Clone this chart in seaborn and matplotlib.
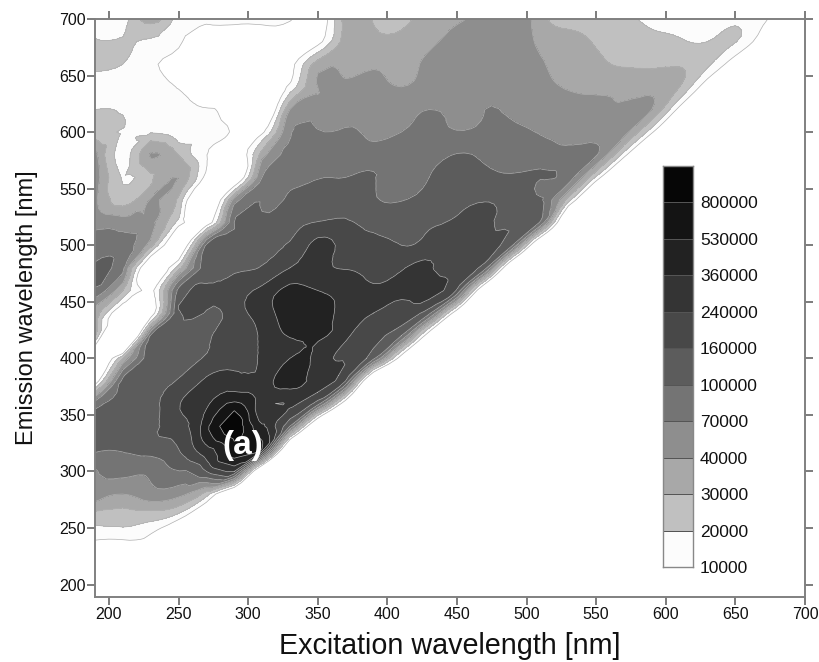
import numpy as np
import pandas as pd
import matplotlib
matplotlib.use("Agg")
import matplotlib.pyplot as plt
import matplotlib.tri as mtri
from matplotlib.colors import ListedColormap
import seaborn as sns

sns.set_theme(style="ticks")
plt.rcParams['font.family'] = ['Liberation Sans', 'DejaVu Sans']

W, H = 820, 662

# grid of the map, values are in "band units": 0 = 10000, 1 = 20000 ... 10 = 800000
excitation = list(range(190, 711, 20))
emission = list(range(700, 199, -20))

band_rows = [
    [.5, .5, 2.5, .5, .5, .5, .5, .2, -1, 2.5, 1.9, 1.5, 2.6, 2.9, 3.5, 3.9, 2.4, 1.5, 1.5, 1.2, .8, .6, .6, .7, .2, -1, -1],
    [1.1, 1.1, .8, .2, -1, -1, -1, -1, -.5, 2.5, 2.5, 2.4, 2.8, 3.3, 3.7, 3.7, 2.8, 2.4, 1.9, 1.5, 1.3, 1.1, 1.0, 1.05, -1, -3, -3],
    [1.2, 1.0, .2, -.5, -1, -1, -1, -.5, 2.5, 2.8, 2.9, 2.8, 3.2, 3.6, 3.8, 3.6, 3.1, 2.6, 2.2, 1.9, 1.9, 1.9, 1.2, -1, -3, -3, -3],
    [.6, .5, .5, -.1, -1, -1, -1, .3, 3.0, 3.2, 3.3, 3.0, 3.4, 3.8, 3.9, 3.7, 3.3, 2.9, 2.7, 2.7, 2.6, 2.0, -1, -3, -3, -3, -3],
    [1.0, .9, .4, .5, .1, -1, -2.5, 3.0, 3.4, 3.6, 3.7, 3.7, 4.0, 3.9, 4.0, 3.9, 3.6, 3.5, 3.3, 3.2, 3.0, -.5, -3, -3, -3, -3, -3],
    [1.5, .9, .9, .5, .5, -.3, -.3, 3.9, 4.1, 4.1, 3.8, 4.0, 4.3, 4.05, 4.2, 4.2, 3.95, 3.7, 3.5, 3.3, .2, -3, -3, -3, -3, -3, -3],
    [3.3, .4, 3.1, 2.0, .05, -1.5, 2.5, 4.3, 4.6, 4.6, 4.5, 4.9, 4.7, 5.05, 4.85, 4.7, 4.5, 4.4, 4.1, .5, -3, -3, -3, -3, -3, -3, -3],
    [3.7, .9, 1.8, 3.0, -.5, -2, 4.0, 4.7, 4.95, 5.0, 5.05, 4.5, 5.0, 5.3, 5.15, 5.1, 5.05, 4.5, .8, -3, -3, -3, -3, -3, -3, -3, -3],
    [3.3, 1.5, 3.1, 1.8, -3, 3.5, 4.9, 5.3, 5.5, 5.5, 5.1, 4.95, 5.4, 5.7, 5.9, 5.6, 5.2, 1.5, -3, -3, -3, -3, -3, -3, -3, -3, -3],
    [3.7, 3.5, 3.2, .6, -1, 5.0, 5.4, 5.7, 6.05, 6.1, 5.7, 5.6, 5.9, 6.3, 6.5, 5.8, 4.9, -3, -3, -3, -3, -3, -3, -3, -3, -3, -3],
    [4.5, 4.5, 2.5, -2, 5.2, 5.5, 5.8, 6.1, 7.3, 6.6, 6.3, 6.0, 6.4, 6.9, 6.6, 5.0, -2.5, -3, -3, -3, -3, -3, -3, -3, -3, -3, -3],
    [5.3, 4.3, -2, 1.5, 5.6, 5.8, 6.05, 7.0, 7.2, 6.95, 6.7, 6.85, 7.2, 6.5, 5.5, -2.5, -3, -3, -3, -3, -3, -3, -3, -3, -3, -3, -3],
    [4.8, 2.0, -.5, 5.3, 6.3, 6.5, 7.3, 8.3, 8.0, 7.6, 7.2, 7.3, 7.6, 5.9, -2, -3, -3, -3, -3, -3, -3, -3, -3, -3, -3, -3, -3],
    [2.5, -2, -1, 5.9, 5.9, 6.5, 7.5, 8.5, 8.5, 7.7, 7.0, 6.6, 5.3, -1, -3, -3, -3, -3, -3, -3, -3, -3, -3, -3, -3, -3, -3],
    [2.2, -6, 5.2, 5.6, 5.7, 6.3, 7.2, 8.05, 8.1, 7.3, 6.2, 5.0, -1, -3, -3, -3, -3, -3, -3, -3, -3, -3, -3, -3, -3, -3, -3],
    [-3, 2, 5.6, 5.6, 6.1, 6.6, 7.1, 8.0, 7.7, 6.9, 5.3, -.8, -3, -3, -3, -3, -3, -3, -3, -3, -3, -3, -3, -3, -3, -3, -3],
    [-1, 5.3, 5.8, 6.1, 7.2, 7.4, 7.4, 8.5, 7.9, 6.0, -3, -3, -3, -3, -3, -3, -3, -3, -3, -3, -3, -3, -3, -3, -3, -3, -3],
    [4.5, 5.5, 5.6, 6.95, 7.8, 9.2, 7.4, 7.2, 5.5, -1, -3, -3, -3, -3, -3, -3, -3, -3, -3, -3, -3, -3, -3, -3, -3, -3, -3],
    [5.3, 5.5, 5.8, 6.5, 8.7, 10.8, 8.2, 5.0, -2.5, -3, -3, -3, -3, -3, -3, -3, -3, -3, -3, -3, -3, -3, -3, -3, -3, -3, -3],
    [5.2, 5.1, 5.5, 6.0, 7.7, 9.9, 9.0, -3, -3, -3, -3, -3, -3, -3, -3, -3, -3, -3, -3, -3, -3, -3, -3, -3, -3, -3, -3],
    [3.9, 4.3, 4.2, 4.95, 6.0, 7.0, -3, -3, -3, -3, -3, -3, -3, -3, -3, -3, -3, -3, -3, -3, -3, -3, -3, -3, -3, -3, -3],
    [3.6, 3.0, 3.6, 3.3, 1.5, -2.5, -3, -3, -3, -3, -3, -3, -3, -3, -3, -3, -3, -3, -3, -3, -3, -3, -3, -3, -3, -3, -3],
    [1.5, 1.5, 1.4, .5, -2, -3, -3, -3, -3, -3, -3, -3, -3, -3, -3, -3, -3, -3, -3, -3, -3, -3, -3, -3, -3, -3, -3],
    [.1, .05, -.5, -3, -3, -3, -3, -3, -3, -3, -3, -3, -3, -3, -3, -3, -3, -3, -3, -3, -3, -3, -3, -3, -3, -3, -3],
    [-3] * 27,
    [-3] * 27,
]

band_labels = ["10000", "20000", "30000", "40000", "70000", "100000",
               "160000", "240000", "360000", "530000", "800000"]
band_colors = ["#fcfcfc", "#c0c0c0", "#a8a8a8", "#8e8e8e", "#747474", "#5c5c5c",
               "#484848", "#343434", "#222222", "#141414", "#060606"]
x_ticks = [200, 250, 300, 350, 400, 450, 500, 550, 600, 650, 700]
y_ticks = [200, 250, 300, 350, 400, 450, 500, 550, 600, 650, 700]


def box(left, top, right, bottom):
    return [left / W, 1 - bottom / H, (right - left) / W, (bottom - top) / H]


fig = plt.figure(figsize=(W / 100, H / 100), dpi=100)
ax = fig.add_axes(box(95, 19, 805, 597))

df = pd.DataFrame(band_rows, index=emission, columns=excitation)
levels = list(range(len(band_colors) + 1))

# cells are split along the rising diagonal, same direction as the steep edge of the map
n_rows, n_cols = df.shape
triangles = []
for r in range(n_rows - 1):
    for c in range(n_cols - 1):
        bl, br = (r + 1) * n_cols + c, (r + 1) * n_cols + c + 1
        tl, tr = r * n_cols + c, r * n_cols + c + 1
        triangles += [[bl, br, tr], [bl, tr, tl]]

xx, yy = np.meshgrid(df.columns.values.astype(float), df.index.values.astype(float))
z = df.values.ravel()
tri = mtri.Triangulation(xx.ravel(), yy.ravel(), triangles)

# matplotlib's own refiner rounds the contours off a bit,
# the cubic one overshoots at the steep edge so keep it close to the linear one
refiner = mtri.UniformTriRefiner(tri)
tri2, z_cubic = refiner.refine_field(z, triinterpolator=mtri.CubicTriInterpolator(tri, z, kind="min_E"), subdiv=2)
_, z_linear = refiner.refine_field(z, triinterpolator=mtri.LinearTriInterpolator(tri, z), subdiv=2)
z2 = np.clip(z_cubic, z_linear - 0.3, z_linear + 0.3)

ax.tricontourf(tri2, z2, levels=levels, colors=band_colors)
ax.tricontour(tri2, z2, levels=levels[:-1], colors="#b0b0b0", linewidths=0.5)

ax.set_xlim(190, 700)
ax.set_ylim(189, 700)
ax.set_xticks(x_ticks)
ax.set_yticks(y_ticks)
ax.tick_params(axis="both", which="major", top=True, right=True, direction="out", length=5.5,
               width=1.2, color="#666666", labelsize=11.5, labelcolor="#111111", pad=1)
ax.tick_params(axis="x", pad=2)
for s in ax.spines.values():
    s.set_color("#808080")
    s.set_linewidth(1.4)
ax.set_xlabel("Excitation wavelength [nm]", fontsize=20.7, color="#111111", va="center")
ax.set_ylabel("Emission wavelength [nm]", fontsize=17, color="#111111", va="center")
ax.xaxis.set_label_coords(0.5, -49 / 578)
ax.yaxis.set_label_coords(-68 / 710, 0.5)
ax.text(296, 323, "(a)", color="white", fontsize=24, fontweight="bold", ha="center", va="center")

# legend as a one column heatmap, darkest cell on top
cax = fig.add_axes(box(663, 166, 693, 567))
cells = pd.DataFrame({"band": list(range(len(band_colors)))[::-1]})
sns.heatmap(cells, ax=cax, cmap=ListedColormap(band_colors), cbar=False,
            vmin=-0.5, vmax=len(band_colors) - 0.5, linewidths=0.4, linecolor="#555555",
            xticklabels=False, yticklabels=False)
cax.set_yticks(list(range(1, len(band_colors) + 1)))
cax.set_yticklabels(band_labels[::-1], rotation=0, fontsize=12.5, color="#111111")
cax.yaxis.tick_right()
cax.tick_params(axis="y", length=0, pad=5)
cax.set_xlabel("")
cax.set_ylabel("")
for s in cax.spines.values():
    s.set_visible(True)
    s.set_color("#888888")
    s.set_linewidth(1.0)

fig.savefig("out.png", dpi=100)
